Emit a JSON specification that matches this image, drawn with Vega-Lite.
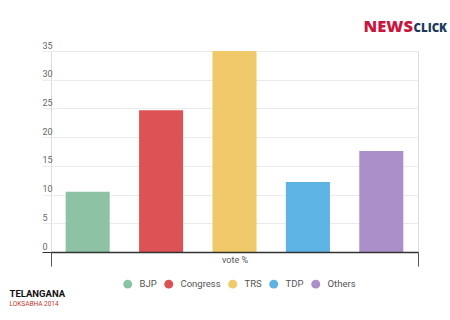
{
  "$schema": "https://vega.github.io/schema/vega-lite/v6.json",
  "autosize": "none",
  "width": 367,
  "height": 201,
  "padding": {"left": 51, "top": 51, "right": 32, "bottom": 68},
  "background": "white",
  "title": {
    "text": "TELANGANA",
    "subtitle": "LOKSABHA 2014",
    "orient": "bottom",
    "anchor": "start",
    "dx": -32,
    "dy": -4,
    "font": "Roboto",
    "fontSize": 9.5,
    "fontWeight": "bold",
    "color": "#111111",
    "subtitleFont": "Roboto",
    "subtitleFontSize": 6.5,
    "subtitleColor": "#c0392b",
    "subtitlePadding": 2
  },
  "data": {
    "values": [
      {"metric": "vote %", "party": "BJP", "value": 10.5},
      {"metric": "vote %", "party": "Congress", "value": 24.7},
      {"metric": "vote %", "party": "TRS", "value": 35.0},
      {"metric": "vote %", "party": "TDP", "value": 12.2},
      {"metric": "vote %", "party": "Others", "value": 17.6}
    ]
  },
  "mark": {"type": "bar"},
  "encoding": {
    "x": {
      "field": "metric",
      "type": "nominal",
      "scale": {"paddingInner": 0, "paddingOuter": 0},
      "axis": {
        "orient": "bottom",
        "tickBand": "extent",
        "domainColor": "#333333",
        "domainWidth": 1.5,
        "tickColor": "#555555",
        "tickSize": 14,
        "labelFont": "Roboto",
        "labelFontSize": 9,
        "labelColor": "#555555",
        "labelAngle": 0,
        "labelPadding": -11,
        "labelBaseline": "top",
        "title": "CLICK",
        "titleX": 362,
        "titleY": -221,
        "titleAlign": "left",
        "titleBaseline": "alphabetic",
        "titleFont": "Open Sans",
        "titleFontSize": 11.5,
        "titleFontWeight": 800,
        "titleColor": "#1c3a5a",
        "zindex": 1
      }
    },
    "xOffset": {
      "field": "party",
      "type": "nominal",
      "sort": ["BJP", "Congress", "TRS", "TDP", "Others"],
      "scale": {"paddingInner": 0.4, "paddingOuter": 0.2}
    },
    "y": {
      "field": "value",
      "type": "quantitative",
      "scale": {"domain": [0, 35], "nice": false},
      "axis": {
        "values": [0, 5, 10, 15, 20, 25, 30, 35],
        "grid": true,
        "gridColor": "#ebebeb",
        "domain": false,
        "ticks": true,
        "tickSize": 9,
        "tickColor": {"condition": {"test": "datum.value === 0", "value": "#333333"}, "value": "#ebebeb"},
        "labelAlign": "left",
        "labelBaseline": "bottom",
        "labelPadding": 0,
        "labelOffset": -1,
        "labelFont": "Roboto",
        "labelFontSize": 9,
        "labelColor": "#666666",
        "title": "NEWS",
        "titleAngle": 0,
        "titleX": 312,
        "titleY": -20,
        "titleAlign": "left",
        "titleBaseline": "alphabetic",
        "titleFont": "Open Sans",
        "titleFontSize": 16.5,
        "titleFontWeight": 800,
        "titleColor": "#c8173f"
      }
    },
    "color": {
      "field": "party",
      "type": "nominal",
      "sort": ["BJP", "Congress", "TRS", "TDP", "Others"],
      "scale": {
        "domain": ["BJP", "Congress", "TRS", "TDP", "Others"],
        "range": ["#8dc3a4", "#dd5254", "#f0c96a", "#5db3e3", "#ab8fc8"]
      },
      "legend": {
        "orient": "none",
        "legendX": 72,
        "legendY": 228,
        "direction": "horizontal",
        "title": null,
        "symbolType": "circle",
        "symbolSize": 80,
        "symbolStrokeWidth": 0,
        "symbolOpacity": 1,
        "labelFont": "Roboto",
        "labelFontSize": 9.5,
        "labelColor": "#555555",
        "columnPadding": 7,
        "labelOffset": 7
      }
    }
  }
}
